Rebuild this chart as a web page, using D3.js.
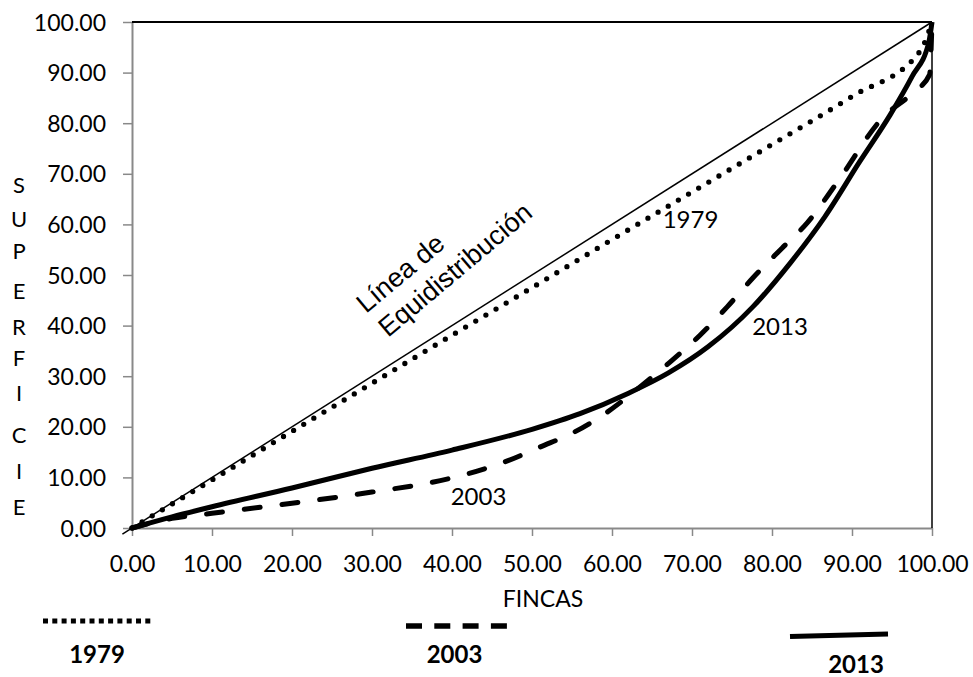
<!DOCTYPE html>
<html>
<head>
<meta charset="utf-8">
<script src="https://cdn.jsdelivr.net/npm/d3@7/dist/d3.min.js"></script>
<style>
  html, body { margin: 0; padding: 0; background: #fff; }
  svg { display: block; }
</style>
</head>
<body>
<svg id="chart" width="973" height="677"></svg>
<script>
// ---- data ----
const xTicks = [0, 10, 20, 30, 40, 50, 60, 70, 80, 90, 100];
const yTicks = [0, 10, 20, 30, 40, 50, 60, 70, 80, 90, 100];

const equidistribucion = [[-1.2, -1.2], [100, 100]];

const serie1979 = [[0,0],[10,9.5],[20,19.1],[30,28.6],[40,38.1],[50,47.5],[60,57],[70,66.4],[80,75.8],[90,85.3],[98.5,94.2],[100,100]];

const serie2003 = [[0,0],[5,1.9],[10,2.9],[20,4.9],[30,7.1],[40,9.9],[47,13.3],[51,16],[55.1,18.8],[59.4,22.9],[63.5,27.9],[67.25,32.8],[71,38.1],[74.4,43.7],[77.6,49.4],[81.25,55.3],[84.4,60.3],[88.1,68.2],[93.9,81.2],[97.6,86.0],[99.7,89.6],[100,100]];

const serie2013 = [[0,0],[5,2.2],[10,4.2],[20,7.9],[30,11.8],[40,15.4],[50,19.5],[56,22.6],[62,26.6],[67,30.6],[72,35.8],[77.6,43.7],[82.3,52.4],[86.6,61.5],[91,72.5],[94.75,81.6],[97.5,89.2],[99.6,96],[100,100]];

const yTitle = "SUPERFICIE";
const xTitle = "FINCAS";
const annotationLines = ["Línea de", "Equidistribución"];
const seriesNames = ["1979", "2003", "2013"];

// ---- drawing ----
const sans = "Lato, 'Open Sans', sans-serif";
const svg = d3.select("#chart");
const x = d3.scaleLinear().domain([0, 100]).range([132, 932]);
const y = d3.scaleLinear().domain([0, 100]).range([528, 22]);
const fmt = d3.format(".2f");
const axisColor = "#898989";

// left axis
const gy = svg.append("g").attr("transform", `translate(${x(0)},0)`)
  .call(d3.axisLeft(y).tickValues(yTicks).tickFormat(fmt).tickSize(9).tickSizeOuter(0).tickPadding(17));
gy.select(".domain").attr("stroke", axisColor).attr("stroke-width", 2);
gy.selectAll(".tick line").attr("stroke", axisColor).attr("stroke-width", 1.5);
gy.selectAll(".tick text").style("font-size", "23px").style("font-family", sans).attr("fill", "#000").attr("dy", "0.35em");

// bottom axis
const gx = svg.append("g").attr("transform", `translate(0,${y(0)})`)
  .call(d3.axisBottom(x).tickValues(xTicks).tickFormat(fmt).tickSize(8).tickSizeOuter(0).tickPadding(19.5));
gx.select(".domain").attr("stroke", axisColor).attr("stroke-width", 2);
gx.selectAll(".tick line").attr("stroke", axisColor).attr("stroke-width", 1.5);
gx.selectAll(".tick text").style("font-size", "23px").style("font-family", sans).attr("fill", "#000");

// top and right borders
svg.append("line").attr("x1", x(0)).attr("x2", x(100)).attr("y1", y(100)).attr("y2", y(100))
  .attr("stroke", "#000").attr("stroke-width", 2);
svg.append("line").attr("x1", x(100)).attr("x2", x(100)).attr("y1", y(100)).attr("y2", y(0))
  .attr("stroke", "#000").attr("stroke-width", 1.5);

const line = d3.line().x(d => x(d[0])).y(d => y(d[1])).curve(d3.curveMonotoneX);

// line of equal distribution
svg.append("path").datum(equidistribucion).attr("d", d3.line().x(d => x(d[0])).y(d => y(d[1])))
  .attr("fill", "none").attr("stroke", "#000").attr("stroke-width", 1.5);

// 1979 dotted
svg.append("path").datum(serie1979).attr("d", line)
  .attr("fill", "none").attr("stroke", "#000").attr("stroke-width", 5.3)
  .attr("stroke-linecap", "round").attr("stroke-dasharray", "0 11.8");

// 2003 dashed
svg.append("path").datum(serie2003).attr("d", line)
  .attr("fill", "none").attr("stroke", "#000").attr("stroke-width", 5)
  .attr("stroke-linecap", "round").attr("stroke-dasharray", "16 22");

// 2013 solid
svg.append("path").datum(serie2013).attr("d", line)
  .attr("fill", "none").attr("stroke", "#000").attr("stroke-width", 5)
  .attr("stroke-linejoin", "round");

// in-plot labels
const plotLabels = [
  { t: seriesNames[0], cx: 690.5, by: 228 },
  { t: seriesNames[2], cx: 780, by: 335 },
  { t: seriesNames[1], cx: 478.5, by: 505 }
];
svg.selectAll(".plabel").data(plotLabels).enter().append("text")
  .attr("class", "plabel").attr("x", d => d.cx).attr("y", d => d.by)
  .attr("text-anchor", "middle").style("font-family", sans).style("font-size", "24px").text(d => d.t);

// rotated annotation (Arial-like)
const ann = svg.append("text")
  .attr("transform", "translate(366,314) rotate(-40)")
  .style("font-family", "'Liberation Sans', Arial, sans-serif")
  .style("font-size", "27px");
ann.selectAll("tspan").data(annotationLines).enter().append("tspan")
  .attr("x", (d, i) => i * 1.5).attr("y", (d, i) => i * 32.5).text(d => d);

// y title stacked letters
const letterBase = [193, 227, 259, 299, 335, 366, 401, 443, 479, 515];
svg.selectAll(".ylet").data(yTitle.split("")).enter().append("text")
  .attr("class", "ylet").attr("x", 19).attr("y", (d, i) => letterBase[i])
  .attr("text-anchor", "middle").style("font-family", sans).style("font-size", "22px").text(d => d);

// x title
svg.append("text").attr("x", 543).attr("y", 607).attr("text-anchor", "middle")
  .style("font-family", sans).style("font-size", "23px").text(xTitle);

// legend
svg.append("line").attr("x1", 43).attr("x2", 154).attr("y1", 621).attr("y2", 621)
  .attr("stroke", "#000").attr("stroke-width", 5).attr("stroke-dasharray", "5 4.3");
svg.append("line").attr("x1", 406).attr("x2", 507).attr("y1", 626).attr("y2", 626)
  .attr("stroke", "#000").attr("stroke-width", 5.5).attr("stroke-dasharray", "16 12.3");
svg.append("line").attr("x1", 790).attr("x2", 888).attr("y1", 636.5).attr("y2", 634)
  .attr("stroke", "#000").attr("stroke-width", 5);

const legendLabels = [
  { t: seriesNames[0], cx: 97, by: 663 },
  { t: seriesNames[1], cx: 454.5, by: 663 },
  { t: seriesNames[2], cx: 856, by: 673 }
];
svg.selectAll(".llabel").data(legendLabels).enter().append("text")
  .attr("class", "llabel").attr("x", d => d.cx).attr("y", d => d.by)
  .attr("text-anchor", "middle").style("font-family", sans).style("font-size", "24px")
  .style("font-weight", "bold").text(d => d.t);
</script>
</body>
</html>
